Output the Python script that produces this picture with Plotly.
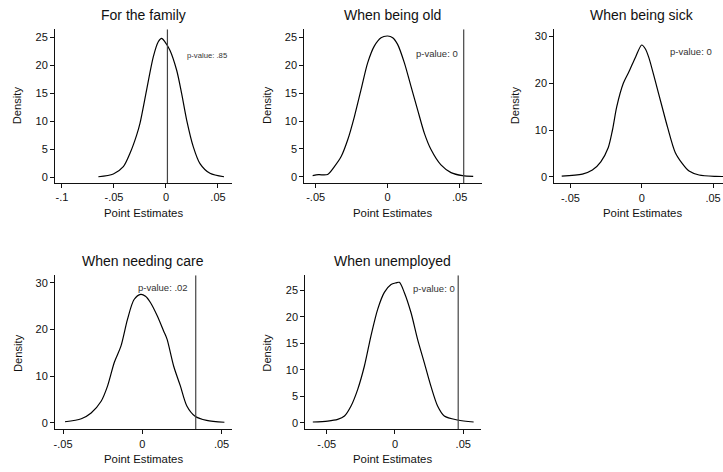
import plotly.graph_objects as go

# ---------------- data ----------------
titles = ["For the family", "When being old", "When being sick",
          "When needing care", "When unemployed"]
p_labels = ["p-value: .85", "p-value: 0", "p-value: 0", "p-value: .02", "p-value: 0"]
observed = [0.0014, 0.0528, 0.062, 0.0337, 0.0463]

family_x = [-0.065, -0.0506, -0.041, -0.0346, -0.0282, -0.025, -0.0186, -0.0122, -0.0074,
            -0.0042, -0.001, 0.0038, 0.0103, 0.015, 0.0199, 0.0263, 0.0327, 0.0423, 0.0558]
family_y = [0.05, 0.54, 1.85, 4.24, 7.5, 9.6, 15.6, 21.5, 24.2, 24.8, 24.2, 22.7, 19.1,
            15.0, 10.2, 5.4, 2.4, 0.66, 0.05]

old_x = [-0.0521, -0.048, -0.0417, -0.037, -0.0324, -0.0278, -0.0231, -0.0185, -0.0139,
         -0.0093, -0.0046, 0.0, 0.0035, 0.0069, 0.0116, 0.0162, 0.0208, 0.0255, 0.0301,
         0.037, 0.044, 0.052, 0.0594]
old_y = [0.24, 0.4, 0.45, 1.85, 3.6, 6.6, 10.8, 15.6, 20.4, 23.4, 24.9, 25.2, 24.9, 23.7,
         20.4, 16.2, 12.0, 7.8, 4.9, 2.15, 0.78, 0.24, 0.12]

sick_x = [-0.0561, -0.0416, -0.0346, -0.0287, -0.0235, -0.0205, -0.0175, -0.0129, -0.0089,
          -0.0042, 0.0, 0.0025, 0.005, 0.0095, 0.014, 0.0182, 0.0235, 0.0285, 0.0332,
          0.0402, 0.0519, 0.058]
sick_y = [0.14, 0.57, 1.43, 3.2, 6.2, 10.0, 15.0, 20.0, 22.5, 25.7, 28.2, 27.4, 25.5, 20.5,
          15.3, 10.5, 5.2, 2.8, 1.2, 0.36, 0.07, 0.05]

care_x = [-0.0488, -0.0385, -0.0323, -0.026, -0.0219, -0.0177, -0.0135, -0.0094, -0.0052,
          -0.001, 0.002, 0.0052, 0.0094, 0.0135, 0.0156, 0.0198, 0.024, 0.0281, 0.0333,
          0.0406, 0.0518]
care_y = [0.2, 0.86, 2.1, 4.6, 7.9, 12.9, 16.4, 22.1, 26.4, 27.5, 27.1, 25.7, 22.9, 19.6,
          17.9, 12.1, 7.9, 3.6, 1.4, 0.5, 0.1]

unemp_x = [-0.0602, -0.0493, -0.042, -0.037, -0.0322, -0.0273, -0.0224, -0.0176, -0.0127,
           -0.0078, -0.0029, 0.0007, 0.0032, 0.0068, 0.0117, 0.0166, 0.0215, 0.0263,
           0.0312, 0.0361, 0.0459, 0.0576]
unemp_y = [0.13, 0.31, 0.63, 1.26, 3.15, 6.3, 10.7, 16.4, 21.4, 24.6, 26.1, 26.4, 26.5,
           24.6, 20.8, 15.7, 11.3, 6.9, 3.15, 1.26, 0.5, 0.13]

xs = [family_x, old_x, sick_x, care_x, unemp_x]
ys = [family_y, old_y, sick_y, care_y, unemp_y]

xtick_vals = [[-0.1, -0.05, 0, 0.05], [-0.05, 0, 0.05], [-0.05, 0, 0.05],
              [-0.05, 0, 0.05], [-0.05, 0, 0.05]]
xtick_text = [["-.1", "-.05", "0", ".05"], ["-.05", "0", ".05"], ["-.05", "0", ".05"],
              ["-.05", "0", ".05"], ["-.05", "0", ".05"]]
ytick_vals = [[0, 5, 10, 15, 20, 25], [0, 5, 10, 15, 20, 25], [0, 10, 20, 30],
              [0, 10, 20, 30], [0, 5, 10, 15, 20, 25]]

# ---------------- layout geometry (pixels) ----------------
W, H = 723, 472
panels = [
    dict(px=(55, 231.7), py=(29.3, 183), xr=[-0.1067, 0.0632], yr=[-1.07, 26.43]),
    dict(px=(304.3, 481.7), py=(29.3, 183), xr=[-0.0579, 0.0653], yr=[-1.08, 26.4]),
    dict(px=(554.3, 723), py=(29.3, 183.3), xr=[-0.0613, 0.057], yr=[-1.41, 31.56]),
    dict(px=(55, 231.7), py=(275.3, 429.3), xr=[-0.0551, 0.0564], yr=[-1.41, 31.58]),
    dict(px=(305.3, 481), py=(275.3, 429.3), xr=[-0.0657, 0.063], yr=[-1.25, 27.83]),
]
title_pos = [(143.3, 15), (393, 15), (642, 15), (143.3, 261), (393, 261)]
xtitle_pos = [(143.3, 213.3), (393, 213.3), (642, 213.3), (143.3, 459.3), (393, 459.3)]
ytitle_pos = [(17.3, 105), (267, 105), (515.3, 105), (17.3, 352.7), (267, 352.7)]
plabel_pos = [(207.3, 55), (437.5, 53.3), (691.2, 51.7), (163.3, 287.7), (433.5, 288.7)]
plabel_size = [7.7, 9.5, 9.5, 9.5, 9.5]

FONT = "Liberation Sans, Arial, sans-serif"
INK = "#111111"

fig = go.Figure()
layout = dict(
    width=W, height=H, margin=dict(l=0, r=0, t=0, b=0),
    paper_bgcolor="white", plot_bgcolor="white", showlegend=False,
    font=dict(family=FONT, color=INK, size=11), hovermode=False,
)
annotations = []

for i, p in enumerate(panels):
    n = "" if i == 0 else str(i + 1)
    xa, ya = "x" + n, "y" + n
    fig.add_trace(go.Scatter(x=xs[i], y=ys[i], mode="lines", xaxis=xa, yaxis=ya,
                             line=dict(color="black", width=1.2, shape="spline",
                                       smoothing=0.8),
                             hoverinfo="skip"))
    fig.add_trace(go.Scatter(x=[observed[i], observed[i]], y=p["yr"], mode="lines",
                             xaxis=xa, yaxis=ya,
                             line=dict(color="#444444", width=1.2), hoverinfo="skip"))
    axis_common = dict(showline=True, linecolor=INK, linewidth=1, ticks="outside",
                       ticklen=4, tickwidth=1, tickcolor=INK, showgrid=False,
                       zeroline=False, tickfont=dict(size=11, family=FONT, color=INK))
    layout["xaxis" + n] = dict(
        axis_common, domain=[p["px"][0] / W, p["px"][1] / W], range=p["xr"],
        anchor=ya, tickmode="array", tickvals=xtick_vals[i], ticktext=xtick_text[i])
    layout["yaxis" + n] = dict(
        axis_common, domain=[1 - p["py"][1] / H, 1 - p["py"][0] / H], range=p["yr"],
        anchor=xa, tickmode="array", tickvals=ytick_vals[i],
        ticktext=[str(v) for v in ytick_vals[i]])

    tx, ty = title_pos[i]
    annotations.append(dict(text=titles[i], x=tx / W, y=1 - ty / H, xref="paper",
                            yref="paper", showarrow=False, xanchor="center",
                            yanchor="middle", font=dict(size=14, family=FONT, color=INK)))
    tx, ty = xtitle_pos[i]
    annotations.append(dict(text="Point Estimates", x=tx / W, y=1 - ty / H, xref="paper",
                            yref="paper", showarrow=False, xanchor="center",
                            yanchor="middle", font=dict(size=11.4, family=FONT, color=INK)))
    tx, ty = ytitle_pos[i]
    annotations.append(dict(text="Density", x=tx / W, y=1 - ty / H, xref="paper",
                            yref="paper", showarrow=False, xanchor="center",
                            yanchor="middle", textangle=-90,
                            font=dict(size=11.2, family=FONT, color=INK)))
    tx, ty = plabel_pos[i]
    annotations.append(dict(text=p_labels[i], x=tx / W, y=1 - ty / H, xref="paper",
                            yref="paper", showarrow=False, xanchor="center",
                            yanchor="middle",
                            font=dict(size=plabel_size[i], family=FONT, color="#333333")))

layout["annotations"] = annotations
fig.update_layout(**layout)
fig.write_html("out.html",
               config={"displayModeBar": False, "staticPlot": True},
               post_script="document.body.style.margin='0';"
                           "document.body.style.padding='0';"
                           "document.body.style.overflow='hidden';")
